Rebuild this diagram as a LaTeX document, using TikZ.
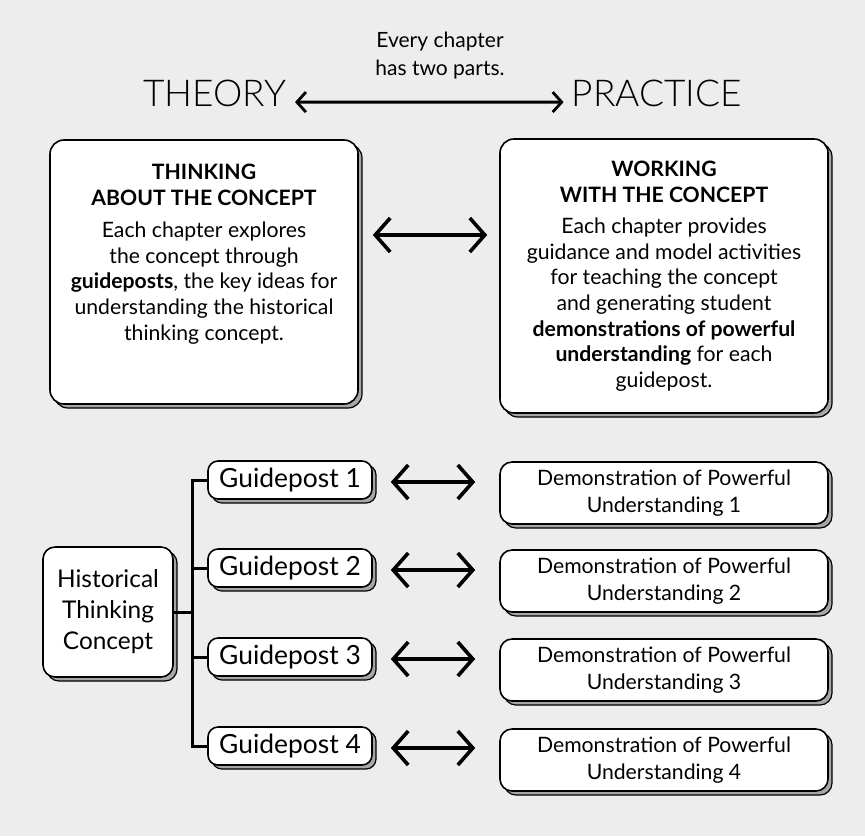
\documentclass[tikz,border=0pt]{standalone}
\usepackage{fontspec}
\setmainfont{Lato}
\newfontfamily\lightfont{Lato Light}
\usetikzlibrary{positioning,arrows.meta,shadows,calc}

\tikzset{
  card/.style={draw, line width=0.8pt, rounded corners=5pt, fill=white, align=center, inner sep=2pt,
    copy shadow={shadow xshift=2pt, shadow yshift=-2pt, fill=black!35, draw=black, line width=0.6pt}},
  bigcard/.style={card, rounded corners=7pt, font=\fontsize{10.6}{12.8}\selectfont},
  guidecard/.style={card, minimum width=82pt, minimum height=19pt, font=\fontsize{13.2}{15}\selectfont},
  democard/.style={card, rounded corners=6pt, minimum width=164pt, minimum height=31pt, font=\fontsize{10.6}{13.8}\selectfont},
  headword/.style={font=\lightfont\fontsize{18.5}{20}\selectfont, inner sep=1pt},
  twoway/.style={{Straight Barb[length=7.5pt,width=17pt,line width=1.8pt]}-{Straight Barb[length=7.5pt,width=17pt,line width=1.8pt]}, line width=1.6pt},
  thinway/.style={{Straight Barb[length=4.5pt,width=10pt,line width=1.4pt]}-{Straight Barb[length=4.5pt,width=10pt,line width=1.4pt]}, line width=1.5pt},
  tree/.style={line width=1.5pt}
}

\begin{document}
\begin{tikzpicture}[x=0.5pt, y=-0.5pt]
\path[fill=black!7] (0,0) rectangle (865,836);

% header
\node[font=\fontsize{10.5}{14}\selectfont, align=center] (parts) at (440,56) {Every chapter\\has two parts.};
\node[headword] (theory) at (215,93) {THEORY};
\node[headword] (practice) at (657,93) {PRACTICE};
\draw[thinway] ([xshift=3pt,yshift=2pt]theory.base east) -- ([xshift=-3pt,yshift=2pt]practice.base west);

% the two big boxes
\node[bigcard, minimum width=154pt, minimum height=132pt] (thinking) at (204,272)
  {\textbf{THINKING}\\\textbf{ABOUT THE CONCEPT}\\[3.5pt]
   Each chapter explores\\the concept through\\\textbf{guideposts}, the key ideas for\\
   understanding the historical\\thinking concept.\rule[-20pt]{0pt}{0pt}};
\node[bigcard, minimum width=164pt, minimum height=137pt] (working) at (664,276)
  {\textbf{WORKING}\\\textbf{WITH THE CONCEPT}\\[3pt]
   Each chapter provides\\guidance and model activities\\for teaching the concept\\
   and generating student\\\textbf{demonstrations of powerful}\\
   \textbf{understanding} for each\\guidepost.};
\draw[twoway] ([xshift=7pt,yshift=18.5pt]thinking.east) -- ([xshift=-6pt,yshift=18.5pt]thinking.east -| working.west);

% concept, guideposts and demonstrations
\node[card, rounded corners=6pt, minimum width=65pt, minimum height=65pt, font=\fontsize{12.2}{15.5}\selectfont] (concept) at (108,612)
  {Historical\\Thinking\\Concept};
\node[guidecard] (gp1) at (290,480) {Guidepost 1};
\node[guidecard] (gp2) at (290,568) {Guidepost 2};
\node[guidecard] (gp3) at (290,657) {Guidepost 3};
\node[guidecard] (gp4) at (290,746) {Guidepost 4};
\node[democard] (dpu1) at (664,493) {Demonstration of Powerful\\Understanding 1};
\node[democard] (dpu2) at (664,581) {Demonstration of Powerful\\Understanding 2};
\node[democard] (dpu3) at (664,670) {Demonstration of Powerful\\Understanding 3};
\node[democard] (dpu4) at (664,760) {Demonstration of Powerful\\Understanding 4};

\coordinate (trunk) at ($(concept.east)!0.55!(gp1.west |- concept.east)$);
\draw[tree] (gp1.west) -| (trunk |- gp4.west) -- (gp4.west);
\draw[tree] (concept.east) -- ([xshift=1pt]trunk);
\foreach \i in {2,3}
  \draw[tree] (gp\i.west) -- (trunk |- gp\i.west);
\foreach \i in {1,...,4}
  \draw[twoway] ([xshift=9pt,yshift=-1pt]gp\i.east) -- ([xshift=-12pt,yshift=-1pt]gp\i.east -| dpu\i.west);
\end{tikzpicture}
\end{document}
